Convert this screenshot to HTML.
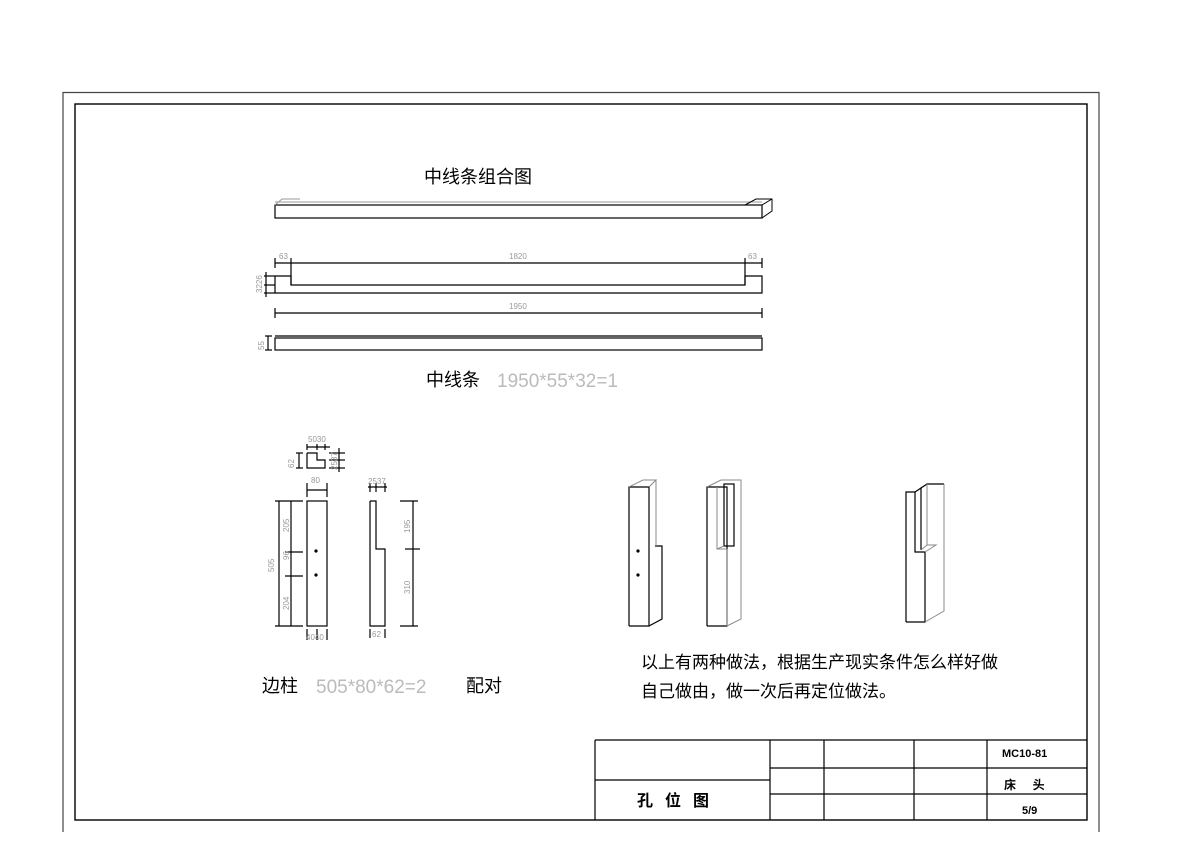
<!DOCTYPE html>
<html><head><meta charset="utf-8"><style>
html,body{margin:0;padding:0;background:#fff;width:1191px;height:842px;overflow:hidden}
svg{display:block}
.t{font-family:"Liberation Sans","Noto Sans CJK SC",sans-serif}
.d{font-family:"Liberation Sans",sans-serif;fill:#999;font-size:8px}
</style></head><body>
<svg width="1191" height="842" viewBox="0 0 1191 842" xmlns="http://www.w3.org/2000/svg">
<g fill="none" stroke="#000" stroke-width="1.2">
<polyline points="63,832 63,92.5 1099,92.5 1099,832" stroke="#444"/>
<rect x="75" y="104" width="1012" height="716" stroke-width="1.4"/>
<line x1="595" y1="740" x2="1087" y2="740"/>
<line x1="595" y1="740" x2="595" y2="820"/>
<line x1="595" y1="780" x2="770" y2="780"/>
<line x1="770" y1="740" x2="770" y2="820"/>
<line x1="824" y1="740" x2="824" y2="820"/>
<line x1="914" y1="740" x2="914" y2="820"/>
<line x1="987" y1="740" x2="987" y2="820"/>
<line x1="770" y1="768" x2="1087" y2="768"/>
<line x1="770" y1="794" x2="1087" y2="794"/>
<rect x="275" y="205" width="487" height="13"/>
<line x1="275" y1="202" x2="762" y2="202" stroke="#999" stroke-width="1"/>
<polyline points="275,205 282,199 300,199" stroke="#999" stroke-width="1"/>
<polyline points="745,205 756,199 772,199 772,211 762,218" stroke-width="1"/>
<line x1="762" y1="205" x2="772" y2="199" stroke-width="1"/>
<polyline points="275,276 291,276 291,285 745,285 745,276 762,276 762,293 275,293 275,276"/>
<line x1="275" y1="263" x2="762" y2="263"/>
<line x1="275" y1="258" x2="275" y2="268"/><line x1="291" y1="258" x2="291" y2="285"/>
<line x1="745" y1="258" x2="745" y2="285"/><line x1="762" y1="258" x2="762" y2="268"/>
<line x1="264" y1="276" x2="275" y2="276"/><line x1="264" y1="285" x2="275" y2="285"/><line x1="264" y1="293" x2="275" y2="293"/>
<line x1="266" y1="272" x2="266" y2="297"/>
<line x1="275" y1="313" x2="762" y2="313"/>
<line x1="275" y1="308" x2="275" y2="318"/><line x1="762" y1="308" x2="762" y2="318"/>
<rect x="275" y="338" width="487" height="12"/>
<line x1="275" y1="336" x2="762" y2="336"/>
<line x1="265" y1="336" x2="272" y2="336"/><line x1="265" y1="350" x2="272" y2="350"/><line x1="268" y1="336" x2="268" y2="350"/>
<polyline points="307,453 307,468 325,468 325,460 317,460 317,453 307,453"/>
<line x1="307" y1="444" x2="307" y2="450"/><line x1="325" y1="444" x2="325" y2="450"/><line x1="307" y1="447" x2="330" y2="447"/><line x1="317" y1="444" x2="317" y2="450"/>
<line x1="296" y1="453" x2="303" y2="453"/><line x1="296" y1="468" x2="303" y2="468"/><line x1="299" y1="453" x2="299" y2="468"/>
<line x1="329" y1="453" x2="345" y2="453"/><line x1="329" y1="460" x2="345" y2="460"/><line x1="329" y1="468" x2="345" y2="468"/><line x1="339" y1="448" x2="339" y2="472"/>
<rect x="307" y="501" width="20" height="125"/>
<line x1="307" y1="483" x2="307" y2="497"/><line x1="327" y1="483" x2="327" y2="497"/><line x1="307" y1="490" x2="327" y2="490"/>
<line x1="275" y1="501" x2="303" y2="501"/><line x1="275" y1="626" x2="303" y2="626"/>
<line x1="279" y1="501" x2="279" y2="626"/><line x1="291" y1="501" x2="291" y2="626"/>
<line x1="285" y1="552" x2="303" y2="552"/><line x1="285" y1="576" x2="303" y2="576"/>
<line x1="307" y1="629" x2="307" y2="640"/><line x1="317" y1="629" x2="317" y2="640"/><line x1="327" y1="629" x2="327" y2="640"/>
<polyline points="370,501 376,501 376,549 385,549 385,626 370,626 370,501"/>
<line x1="368" y1="487" x2="387" y2="487"/><line x1="370" y1="483" x2="370" y2="492"/><line x1="376" y1="483" x2="376" y2="492"/><line x1="385" y1="483" x2="385" y2="492"/>
<line x1="400" y1="501" x2="418" y2="501"/><line x1="400" y1="626" x2="418" y2="626"/><line x1="413" y1="501" x2="413" y2="626"/><line x1="405" y1="549" x2="420" y2="549"/>
<line x1="370" y1="629" x2="370" y2="638"/><line x1="385" y1="629" x2="385" y2="638"/>
<polyline points="629,626 629,487 649,487 649,626 629,626"/>
<polyline points="649,626 662,619 662,546 655,546" />
<g stroke="#888" stroke-width="1"><polyline points="629,487 643,480 656,480 649,487"/><line x1="656" y1="480" x2="656" y2="546"/></g>
<polyline points="707,626 707,487 727,487 727,626 707,626"/>
<rect x="724" y="484" width="10" height="62"/>
<g stroke="#888" stroke-width="1"><polyline points="707,487 721,480 741,480 741,619 727,626"/><polyline points="717,487 717,549 727,549"/><line x1="727" y1="549" x2="727" y2="626"/><line x1="717" y1="549" x2="724" y2="546"/></g>
<polyline points="906,622 906,492 915,492 915,552 925,552 925,622 906,622"/>
<polyline points="915,492 921,488 921,550"/>
<polyline points="921,488 927,484 944,484"/>
<g stroke="#888" stroke-width="1"><polyline points="944,484 944,611 925,622"/><polyline points="927,484 927,545 936,545 925,552"/><line x1="921" y1="550" x2="927" y2="545"/></g>
</g>
<g fill="#000"><circle cx="316" cy="551" r="1.6"/><circle cx="316" cy="575" r="1.6"/><circle cx="638" cy="551" r="1.6"/><circle cx="638" cy="575" r="1.6"/></g>
<g class="d">
<text x="279" y="259">63</text><text x="509" y="259">1820</text><text x="748" y="259">63</text>
<text x="509" y="309">1950</text>
<text x="311" y="483">80</text><text x="308" y="442">5030</text><text x="368" y="484">2537</text>
<text x="306" y="640">4040</text><text x="372" y="637">62</text>
<text transform="translate(262,293) rotate(-90)">3226</text>
<text transform="translate(264,350) rotate(-90)">55</text>
<text transform="translate(294,468) rotate(-90)">62</text>
<text transform="translate(337,470) rotate(-90)">2537</text>
<text transform="translate(274,572) rotate(-90)">505</text>
<text transform="translate(289,532) rotate(-90)">205</text>
<text transform="translate(289,560) rotate(-90)">96</text>
<text transform="translate(289,610) rotate(-90)">204</text>
<text transform="translate(410,533) rotate(-90)">195</text>
<text transform="translate(410,594) rotate(-90)">310</text>
</g>
<g class="t" fill="#000">
<text x="424" y="183" font-size="18">中线条组合图</text>
<text x="426" y="386" font-size="18">中线条</text>
<text x="497" y="387" font-size="19" fill="#bbb">1950*55*32=1</text>
<text x="262" y="692" font-size="18">边柱</text>
<text x="316" y="693" font-size="19" fill="#bbb">505*80*62=2</text>
<text x="466" y="692" font-size="18">配对</text>
<text x="641" y="668" font-size="17">以上有两种做法，根据生产现实条件怎么样好做</text>
<text x="641" y="697" font-size="17">自己做由，做一次后再定位做法。</text>
<text x="637" y="806" font-size="16" font-weight="bold" letter-spacing="12">孔位图</text>
<text x="1002" y="757" font-size="11" font-weight="bold">MC10-81</text>
<text x="1004" y="789" font-size="12" font-weight="bold">床&#160;&#160;&#160;&#160;&#160;头</text>
<text x="1022" y="814" font-size="11" font-weight="bold">5/9</text>
</g>
</svg>
</body></html>
